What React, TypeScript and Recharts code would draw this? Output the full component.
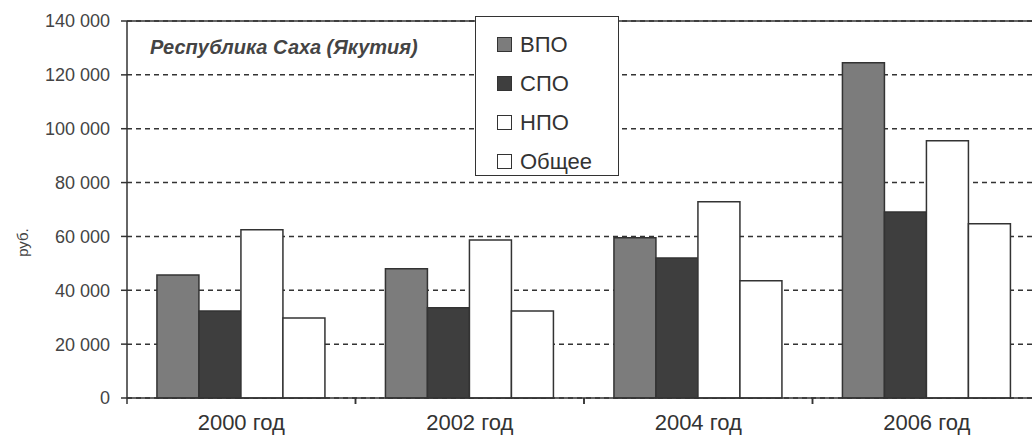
import React from 'react';
import { BarChart, Bar, XAxis, YAxis, CartesianGrid, Legend, ReferenceLine } from 'recharts';

const categories = ['2000 год', '2002 год', '2004 год', '2006 год'];
const vpo = [45700, 48000, 59500, 124500];
const spo = [32300, 33500, 52000, 69100];
const npo = [62500, 58700, 72900, 95500];
const common = [29700, 32300, 43500, 64700];
const yTicks = [0, 20000, 40000, 60000, 80000, 100000, 120000, 140000];

const series = [
  { key: 'vpo', name: 'ВПО', fill: '#7c7c7c' },
  { key: 'spo', name: 'СПО', fill: '#3e3e3e' },
  { key: 'npo', name: 'НПО', fill: '#ffffff' },
  { key: 'common', name: 'Общее', fill: '#ffffff' },
];

const data = categories.map((c, i) => ({
  cat: c,
  vpo: vpo[i],
  spo: spo[i],
  npo: npo[i],
  common: common[i],
}));

const fmt = (v: number) => (v === 0 ? '0' : `${Math.round(v / 1000)} 000`);

const FONT = '"Liberation Sans", Arial, sans-serif';

const CHART_W = 1060;
const MARGIN = { top: 21, right: 19, bottom: 14, left: 0 };
const Y_W = 127;
const BAND = (CHART_W - MARGIN.left - MARGIN.right - Y_W) / categories.length;
const X_TICK_SIZE = 6;
const X_TICK_MARGIN = 10;

const XTick = (props: any) => {
  const { x, y, payload } = props;
  const axisY = y - X_TICK_SIZE - X_TICK_MARGIN;
  return (
    <g>
      <line x1={x - BAND / 2} y1={axisY} x2={x - BAND / 2} y2={axisY + 6} stroke="#333" strokeWidth={1.5} />
      <line x1={x + BAND / 2} y1={axisY} x2={x + BAND / 2} y2={axisY + 6} stroke="#333" strokeWidth={1.5} />
      <text
        x={x}
        y={y}
        dy="0.71em"
        textAnchor="middle"
        style={{ fill: '#333', fontSize: 22, fontFamily: FONT }}
      >
        {payload.value}
      </text>
    </g>
  );
};

const LegendBox = () => (
  <div
    style={{
      width: 144,
      height: 160,
      background: '#fff',
      border: '1.5px solid #333',
      boxSizing: 'border-box',
      paddingTop: 8,
      paddingLeft: 21,
      fontFamily: FONT,
      fontSize: 22,
      color: '#333',
    }}
  >
    {series.map((s) => (
      <div key={s.key} style={{ display: 'flex', alignItems: 'center', height: 39 }}>
        <span
          style={{
            display: 'inline-block',
            width: 15,
            height: 15,
            background: s.fill,
            border: '1.5px solid #333',
            boxSizing: 'border-box',
            marginRight: 8,
          }}
        />
        <span>{s.name}</span>
      </div>
    ))}
  </div>
);

const YLabel = (props: any) => {
  const vb = props.viewBox || { x: 0, y: 0, width: 0, height: 0 };
  const x = vb.x + 22;
  const y = vb.y + vb.height / 2 + 33;
  return (
    <text
      x={x}
      y={y}
      transform={`rotate(-90, ${x}, ${y})`}
      textAnchor="middle"
      dominantBaseline="central"
      style={{ fill: '#444', fontSize: 15, fontFamily: FONT }}
    >
      руб.
    </text>
  );
};

export default function App() {
  return (
    <div
      style={{
        position: 'absolute',
        left: 0,
        top: 0,
        width: 1032,
        height: 442,
        overflow: 'hidden',
        background: '#fff',
      }}
    >
      <BarChart
        width={CHART_W}
        height={442}
        data={data}
        margin={MARGIN}
        barCategoryGap="13.1%"
        barGap={0}
      >
        <CartesianGrid vertical={false} strokeDasharray="5 4" stroke="#333" strokeWidth={1.5} />
        <XAxis
          dataKey="cat"
          height={30}
          tickLine={false}
          axisLine={{ stroke: '#333', strokeWidth: 1.5 }}
          tickSize={X_TICK_SIZE}
          tickMargin={X_TICK_MARGIN}
          tick={<XTick />}
          interval={0}
        />
        <YAxis
          width={Y_W}
          domain={[0, 140000]}
          ticks={yTicks}
          interval={0}
          tickFormatter={fmt}
          axisLine={{ stroke: '#333', strokeWidth: 1.5 }}
          tickLine={{ stroke: '#333', strokeWidth: 1.5 }}
          tickSize={6}
          tickMargin={11}
          tick={{ fill: '#444', fontSize: 18, fontFamily: FONT }}
          label={<YLabel />}
        />
        <ReferenceLine y={140000} stroke="#333" strokeWidth={1.5} />
        <Legend
          layout="horizontal"
          verticalAlign="middle"
          align="center"
          content={() => <LegendBox />}
          wrapperStyle={{ position: 'absolute', left: 475, top: 16, width: 144, height: 160 }}
        />
        {series.map((s) => (
          <Bar
            key={s.key}
            dataKey={s.key}
            name={s.name}
            fill={s.fill}
            stroke="#333"
            strokeWidth={1.5}
            isAnimationActive={false}
          />
        ))}
      </BarChart>
      <div
        style={{
          position: 'absolute',
          left: 150,
          top: 36,
          fontFamily: FONT,
          fontSize: 20,
          fontWeight: 'bold',
          fontStyle: 'italic',
          color: '#444',
          whiteSpace: 'nowrap',
        }}
      >
        Республика Саха (Якутия)
      </div>
    </div>
  );
}
